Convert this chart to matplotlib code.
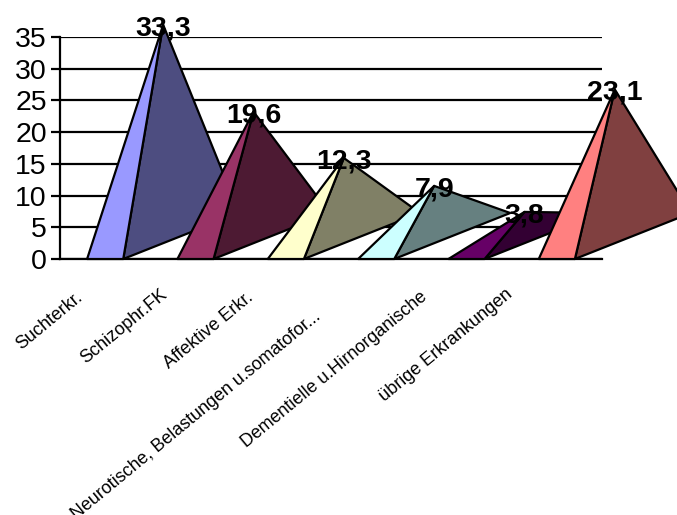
import matplotlib as mpl
mpl.use('Agg')
import matplotlib.pyplot as plt
from matplotlib.patches import Polygon

plt.rcParams['font.family'] = ['Liberation Sans', 'DejaVu Sans']

categories = [
    'Suchterkr.',
    'Schizophr.FK',
    'Affektive Erkr.',
    'Neurotische, Belastungen u.somatofor...',
    'Dementielle u.Hirnorganische',
    'übrige Erkrankungen',
]
values = [33.3, 19.6, 12.3, 7.9, 3.8, 23.1]
value_labels = ['33,3', '19,6', '12,3', '7,9', '3,8', '23,1']
yticks = [0, 5, 10, 15, 20, 25, 30, 35]

front_colors = ['#9999FF', '#993366', '#FFFFCC', '#CCFFFF', '#660066', '#FF8080']
side_colors = ['#4D4D80', '#4D1A33', '#808066', '#668080', '#330033', '#804040']

# pseudo-3D pyramid geometry, in category / value units
half_width = 0.2
depth_x = 1.284
depth_y = 7.25

# end of each slanted category label relative to its slot centre, in pixels
label_dx = [-25, -30, -35, -58, -41, -46]
label_dy = [-36, -34, -36, -55, -36, -33]

fig = plt.figure(figsize=(6.77, 5.15), dpi=100)
ax = fig.add_axes([60 / 677, 1 - 259 / 515, 542 / 677, 222 / 515])
ax.set_xlim(0, len(categories))
ax.set_ylim(0, 35)

ax.spines['top'].set_visible(False)
ax.spines['right'].set_visible(False)
ax.spines['left'].set_linewidth(1.6)
ax.spines['bottom'].set_linewidth(1.6)
ax.set_axisbelow(True)
ax.yaxis.grid(True, color='black', linewidth=1.6)
ax.set_xticks([])
ax.set_yticks(yticks)
ax.tick_params(axis='y', length=6.5, width=1.6, pad=3, labelsize=20.5)

for i, v in enumerate(values):
    center = i + 0.5
    left = center - half_width
    right = center + half_width
    apex = (center + depth_x / 2, v + depth_y / 2)

    ax.add_patch(Polygon(
        [(right, 0), (right + depth_x, depth_y), apex],
        closed=True, facecolor=side_colors[i], edgecolor='black',
        linewidth=1.6, joinstyle='round', clip_on=False, zorder=3 + i,
    ))
    ax.add_patch(Polygon(
        [(left, 0), (right, 0), apex],
        closed=True, facecolor=front_colors[i], edgecolor='black',
        linewidth=1.6, joinstyle='round', clip_on=False, zorder=3 + i,
    ))
    ax.annotate(
        value_labels[i], xy=apex, xytext=(0, -2.5), textcoords='offset points',
        ha='center', va='center', fontsize=20.5, fontweight='bold',
        color='black', zorder=20, annotation_clip=False,
    )
    ax.annotate(
        categories[i], xy=(center, 0),
        xytext=(label_dx[i] * 0.72, label_dy[i] * 0.72),
        textcoords='offset points', rotation=39.5, rotation_mode='anchor',
        ha='right', va='center', fontsize=12.9, annotation_clip=False,
    )

fig.savefig('out.png', dpi=100)
